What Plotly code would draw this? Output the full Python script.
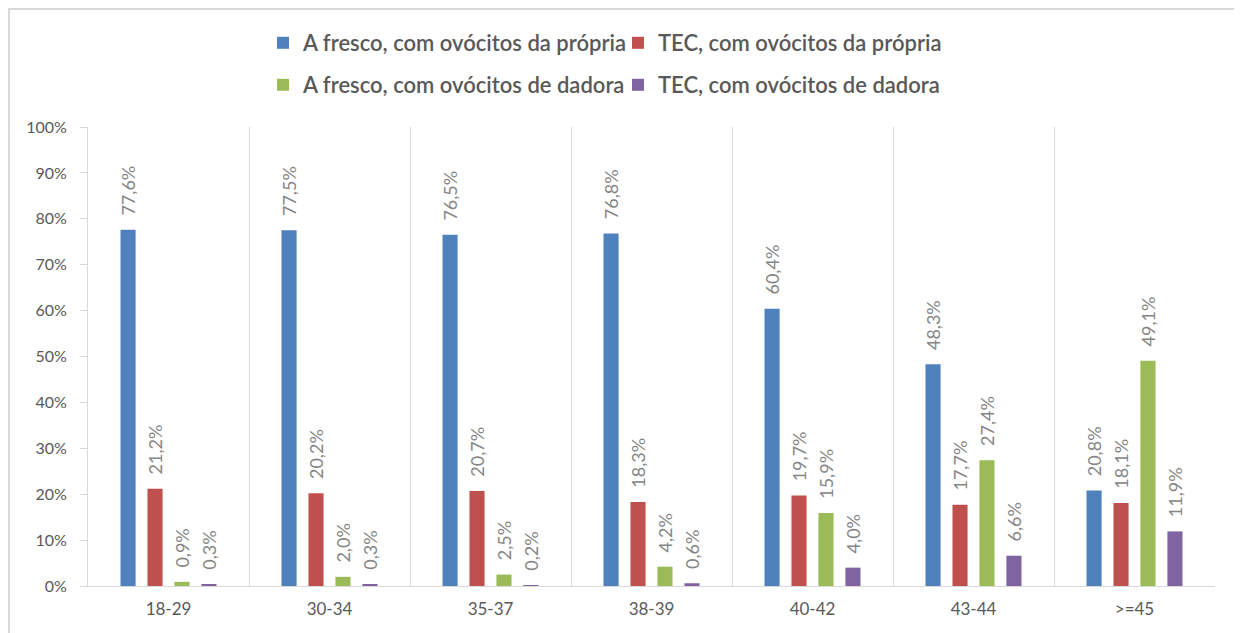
import plotly.graph_objects as go

categories = ["18-29", "30-34", "35-37", "38-39", "40-42", "43-44", ">=45"]
series_names = [
    "A fresco, com ovócitos da própria",
    "TEC, com ovócitos da própria",
    "A fresco, com ovócitos de dadora",
    "TEC, com ovócitos de dadora",
]
fresco_propria = [77.6, 77.5, 76.5, 76.8, 60.4, 48.3, 20.8]
tec_propria = [21.2, 20.2, 20.7, 18.3, 19.7, 17.7, 18.1]
fresco_dadora = [0.9, 2.0, 2.5, 4.2, 15.9, 27.4, 49.1]
tec_dadora = [0.3, 0.3, 0.2, 0.6, 4.0, 6.6, 11.9]
colors = ["#4F81BD", "#C0504D", "#9BBB59", "#8064A2"]
y_ticks = [0, 10, 20, 30, 40, 50, 60, 70, 80, 90, 100]
y_tick_text = [f"{v}%" for v in y_ticks]

FONT = "Lato"
values = [fresco_propria, tec_propria, fresco_dadora, tec_dadora]
legends = ["legend", "legend", "legend2", "legend2"]

fig = go.Figure()
for name, vals, col, lg in zip(series_names, values, colors, legends):
    fig.add_trace(go.Bar(
        x=categories, y=vals, name=name, marker_color=col,
        marker_line_width=0,
        texttemplate="\u2002\u2009%{y:.1f}%", textposition="outside",
        textangle=-90, constraintext="none", cliponaxis=False,
        textfont=dict(family=FONT, size=18, color="#858585"),
        legend=lg,
    ))

# page body has an 8px offset; figure is sized to fill the rest of the window
OFF = 8
W, H = 1242 - OFF, 633 - OFF
ml, mr, mt, mb = 88 - OFF, 27, 127 - OFF, 47
pw, ph = W - ml - mr, H - mt - mb

def px_x(x):
    return (x - OFF - ml) / pw

def px_y(y):
    return (H - mb - (y - OFF)) / ph

legend_style = dict(
    orientation="h", xanchor="left", yanchor="middle",
    font=dict(family=FONT, size=22, color="#595959", weight=600),
    bgcolor="rgba(0,0,0,0)", entrywidth=310, itemwidth=30,
    traceorder="normal",
)

fig.update_layout(
    width=W, height=H,
    margin=dict(l=ml, r=mr, t=mt, b=mb),
    paper_bgcolor="white", plot_bgcolor="white",
    barmode="group", bargap=0.33, bargroupgap=0.44,
    separators=",.",
    font=dict(family=FONT, color="#595959"),
    legend=dict(x=px_x(263), y=px_y(43), **legend_style),
    legend2=dict(x=px_x(263), y=px_y(85), **legend_style),
    xaxis=dict(
        tickson="boundaries", showgrid=True, gridcolor="#d9d9d9", gridwidth=1,
        showline=True, linecolor="#d9d9d9", ticks="",
        tickfont=dict(family=FONT, size=17, color="#595959"),
        ticklabelstandoff=8,
    ),
    yaxis=dict(
        range=[0, 100], tickvals=y_ticks, ticktext=y_tick_text,
        showgrid=False, zeroline=False,
        showline=True, linecolor="#d9d9d9", ticks="outside", ticklen=7,
        tickcolor="#d9d9d9", tickwidth=1,
        tickfont=dict(family=FONT, size=16, color="#595959"),
        ticklabelstandoff=10,
    ),
    shapes=[dict(
        type="rect", xref="paper", yref="paper",
        x0=px_x(OFF + 1), x1=px_x(1238), y0=px_y(660), y1=px_y(OFF + 1),
        line=dict(color="#d9d9d9", width=2), fillcolor="rgba(0,0,0,0)",
        layer="below",
    )],
)

fig.write_html("out.html")
